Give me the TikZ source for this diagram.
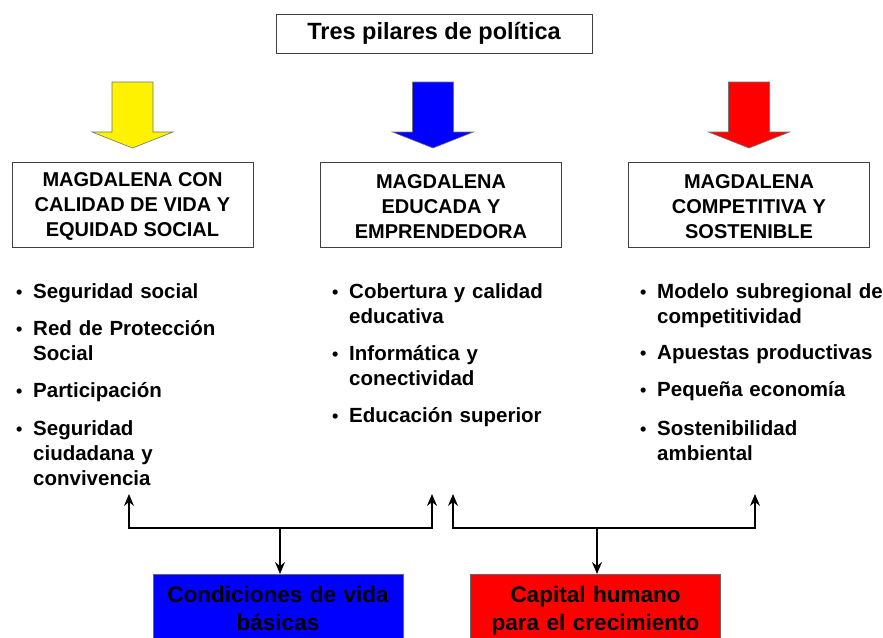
\documentclass[tikz,border=0pt]{standalone}
\usepackage{fontspec}
\setmainfont{Liberation Sans}
\usepackage{tikz}
\usetikzlibrary{calc}
\usetikzlibrary{positioning}
\usetikzlibrary{arrows.meta}

\tikzset{
  pillarbox/.style={draw=black!75, line width=0.9pt, fill=white, minimum width=241pt, minimum height=85pt,
    align=center, inner sep=0pt, font=\bfseries\fontsize{20}{25}\selectfont},
  bigarrow/.style={draw=black!55, line width=0.6pt},
  itemtext/.style={anchor=base west, inner sep=0pt, text width=240pt, align=left,
    font=\bfseries\fontsize{20.5}{25}\selectfont},
  bulletdot/.style={anchor=base west, inner sep=0pt, font=\bfseries\fontsize{18}{18}\selectfont},
  link/.style={line width=1.1pt, -{Stealth[length=12pt,width=10pt,inset=4pt]}},
  goalbox/.style={draw=black!60, line width=0.8pt, anchor=north, text width=250pt, align=center,
    inner xsep=0pt, inner ysep=12pt, font=\bfseries\fontsize{22.5}{28}\selectfont}
}

\begin{document}
\begin{tikzpicture}[x=1pt,y=-1pt]
    \clip (0,0) rectangle (883,637);
    \fill[white] (0,0) rectangle (883,637);

    \node[draw=black!75, line width=0.9pt, minimum width=316pt, minimum height=39pt, inner sep=0pt,
      font=\bfseries\fontsize{23.5}{26}\selectfont] (title) at (434,33.5) {Tres pilares de política};

    % fat arrows
    \foreach \cx/\col in {132.5/yellow, 433/blue, 749/red}{
      \draw[bigarrow, fill=\col]
        (\cx-20.5,82) -- (\cx+20.5,82) -- (\cx+20.5,132) -- (\cx+40.5,132)
        -- (\cx,148) -- (\cx-40.5,132) -- (\cx-20.5,132) -- cycle;
    }

    \node[pillarbox] (calidad) at (132.5,204.5) {\rule{0pt}{18pt}MAGDALENA CON\\CALIDAD DE VIDA Y\\EQUIDAD SOCIAL};
    \node[pillarbox] (educada) at (441,204.5) {\rule{0pt}{18pt}MAGDALENA\\EDUCADA Y\\EMPRENDEDORA};
    \node[pillarbox] (competitiva) at (749,204.5) {\rule{0pt}{18pt}MAGDALENA\\COMPETITIVA Y\\SOSTENIBLE};

    \foreach \bx/\by/\txt [count=\i] in {
      16/298/{Seguridad social},
      16/335/{Red de Protección\\Social},
      16/397/{Participación},
      16/435/{Seguridad\\ciudadana y\\convivencia},
      332/298/{Cobertura y calidad\\educativa},
      332/360/{Informática y\\conectividad},
      332/422/{Educación superior},
      640/298/{Modelo subregional de\\competitividad},
      640/359/{Apuestas productivas},
      640/396/{Pequeña economía},
      640/435/{Sostenibilidad\\ambiental}
    }{
      \node[bulletdot] (dot\i) at (\bx,\by) {•};
      \node[itemtext] (item\i) at (\bx+17,\by) {\txt};
    }

    \node[goalbox, fill=blue] (condiciones) at (278,574) {Condiciones de vida\\básicas};
    \node[goalbox, fill=red] (capital) at (595.5,574) {Capital humano\\para el crecimiento};

    \coordinate (upA) at (129,494);
    \coordinate (upB) at (432,494);
    \coordinate (upC) at (453,494);
    \coordinate (upD) at (755,494);
    \coordinate (joinA) at (280,528);
    \coordinate (joinB) at (597,528);

    \draw[link] (joinA) -| (upA);
    \draw[link] (joinA) -| (upB);
    \draw[link] (joinA) -- (joinA |- condiciones.north);
    \draw[link] (joinB) -| (upC);
    \draw[link] (joinB) -| (upD);
    \draw[link] (joinB) -- (joinB |- capital.north);
\end{tikzpicture}
\end{document}
